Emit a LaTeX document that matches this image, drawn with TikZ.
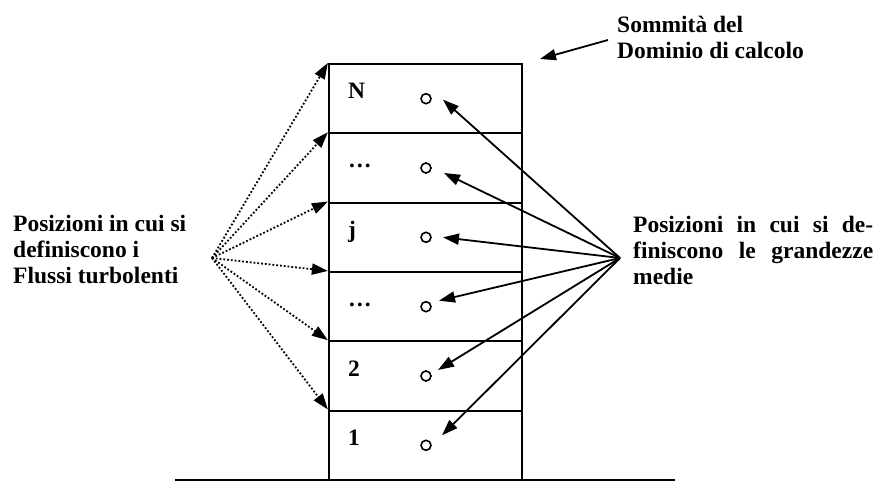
\documentclass[tikz,border=0pt]{standalone}
\usepackage{fontspec}
\setmainfont{Liberation Serif}
\usetikzlibrary{arrows.meta,calc}
\begin{document}
\begin{tikzpicture}[x=1pt,y=-1pt,
  txt/.style={font=\fontsize{23.5}{26}\selectfont\bfseries, inner sep=0pt, align=left},
  lay/.style={draw, line width=2.2pt, minimum width=193pt, minimum height=69.33pt, inner sep=0pt},
  pt/.style={circle, draw, line width=1.6pt, minimum size=10pt, inner sep=0pt},
  lbl/.style={font=\fontsize{23.5}{26}\selectfont\bfseries, inner sep=0pt, anchor=base west},
  arr/.style={line width=1.8pt, -{Triangle[length=16pt,width=11pt]}},
  darr/.style={line width=1.8pt, dotted, -{Triangle[length=16pt,width=11pt]}}]
\useasboundingbox (0,0) rectangle (876,481);

% ground
\draw[line width=1.8pt] (175,480) coordinate (g1) -- (675,480) coordinate (g2);

% layers (bottom = L1)
\foreach \i/\c in {1/445.3,2/376,3/306.7,4/237.3,5/168,6/98.7}{
  \node[lay] (L\i) at (425.5,\c) {};
  \node[pt] (c\i) at (426,\c) {};
}
\node[lbl] (t1) at (348,445.3) {1};
\node[lbl] (t2) at (348,376) {2};
\node[lbl] (t3) at (348,306.7) {\dots};
\node[lbl] (t4) at (348,237.3) {j};
\node[lbl] (t5) at (348,168) {\dots};
\node[lbl] (t6) at (348,98.7) {N};

% texts
\node[txt, anchor=west] (left) at (13,249) {Posizioni in cui si\\definiscono i\\Flussi turbolenti};
\node[txt, anchor=west] (right) at (633,250) {\makebox[240pt][s]{Posizioni in cui si de-}\\\makebox[240pt][s]{finiscono le grandezze}\\medie};
\node[txt, anchor=west] (top) at (617,37) {Sommit\`a del\\Dominio di calcolo};

% convergence points
\coordinate (Lsrc) at (212,258);
\coordinate (Rsrc) at (620,258);

% dotted arrows to layer boundaries
\foreach \i in {1,...,6}{
  \draw[darr] (Lsrc) -- (L\i.north west);
}

% solid arrows to the points
\coordinate (e6) at ($(c6)+(17,1)$);
\coordinate (e5) at ($(c5)+(18,5)$);
\coordinate (e4) at ($(c4)+(17,0)$);
\coordinate (e3) at ($(c3)+(13,-6)$);
\coordinate (e2) at ($(c2)+(12,-6)$);
\coordinate (e1) at ($(c1)+(16,-10)$);
\foreach \i in {1,...,6}{
  \draw[arr] (Rsrc) -- (e\i);
}

% top arrow
\coordinate (ts) at (608,40);
\coordinate (te) at (540,59);
\draw[arr] (ts) -- (te);
\end{tikzpicture}
\end{document}
